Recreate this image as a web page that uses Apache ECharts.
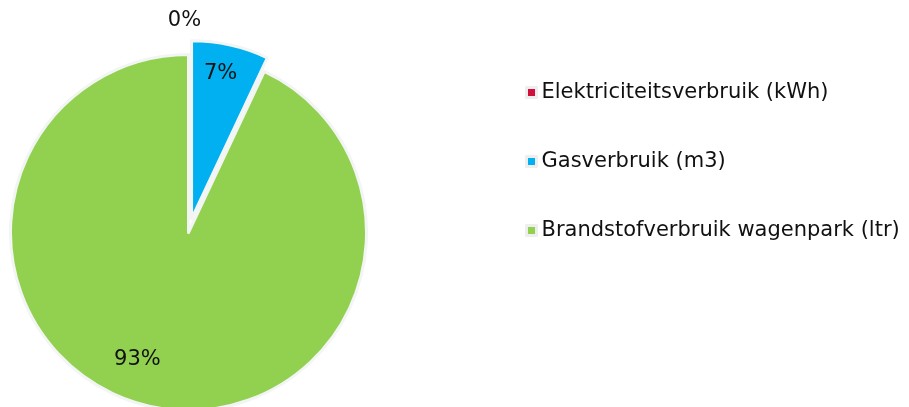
<!DOCTYPE html>
<html>
<head>
<meta charset="utf-8">
<script src="https://cdn.jsdelivr.net/npm/echarts@6/dist/echarts.min.js"></script>
<style>
  html, body { margin: 0; padding: 0; background: #fff; }
  #chart { width: 909px; height: 407px; }
</style>
</head>
<body>
<div id="chart"></div>
<script>
// verbruik aandeel
const categories = ['Elektriciteitsverbruik (kWh)', 'Gasverbruik (m3)', 'Brandstofverbruik wagenpark (ltr)']
const values = [0, 7, 93]
const colors = ['#d0103a', '#00b0f0', '#92d050']
const exploded = [false, true, false]

// label nudges, like excel places them
const labelShift = [[-4, -120], [9, -56], [-31, 37]]

const chart = echarts.init(document.getElementById('chart'))

chart.setOption({
    animation: false,
    textStyle: {fontFamily: 'DejaVu Sans'},
    legend: {
        orient: 'vertical',
        left: 520,
        top: 77,
        itemGap: 48,
        itemWidth: 10,
        itemHeight: 10,
        icon: 'rect',
        itemStyle: {borderColor: '#eeeeee', borderWidth: 3},
        textStyle: {fontSize: 21, color: '#111', lineHeight: 21, fontFamily: 'DejaVu Sans'},
        data: categories
    },
    series: [
        {
            type: 'pie',
            center: [188.5, 232.5],
            radius: 178,
            startAngle: 90,
            clockwise: true,
            selectedMode: 'multiple',
            selectedOffset: 14,
            avoidLabelOverlap: false,
            itemStyle: {borderColor: '#f3f5f5', borderWidth: 3},
            label: {
                show: true,
                position: 'inside',
                formatter: '{d}%',
                fontSize: 21,
                color: '#111',
                fontFamily: 'DejaVu Sans'
            },
            labelLine: {show: false},
            emphasis: {disabled: true},
            labelLayout: function (p) {
                const s = labelShift[p.dataIndex]
                return {dx: s[0], dy: s[1]}
            },
            data: categories.map((name, i) => ({
                name: name,
                value: values[i],
                selected: exploded[i],
                itemStyle: {color: colors[i]}
            }))
        }
    ]
})
</script>
</body>
</html>
